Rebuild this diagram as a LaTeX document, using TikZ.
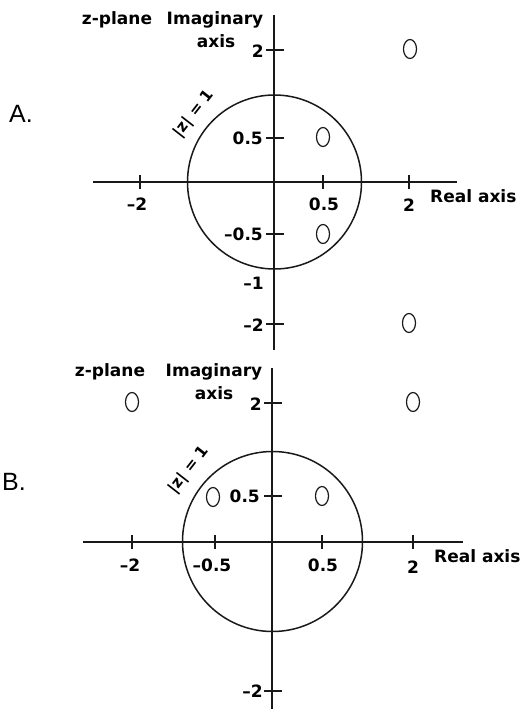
\documentclass[tikz,border=0pt]{standalone}
\usepackage{fontspec}
\usetikzlibrary{shapes.geometric}
\setmainfont{DejaVu Sans}
\newfontfamily\letterfont{Liberation Sans}
\begin{document}
\begin{tikzpicture}[x=1pt,y=-1pt,
  axisline/.style={line width=1.8pt,black!90},
  unitcircle/.style={line width=1.5pt,black!90},
  tickline/.style={line width=1.5pt,black!90},
  zeromark/.style={draw,black!90,line width=1.2pt,ellipse,minimum width=13pt,minimum height=19pt,inner sep=0pt},
  lbl/.style={font=\fontsize{17}{19}\selectfont\bfseries,inner sep=0pt,text=black},
  circlbl/.style={font=\fontsize{15.5}{17}\selectfont\bfseries,inner sep=0pt,text=black,rotate=52},
  panel/.style={font=\letterfont\fontsize{25}{28}\selectfont,inner sep=0pt}]
\useasboundingbox (0,0) rectangle (527,709);
% ================= A =================
\coordinate (Aytop) at (274,15);
\coordinate (Aybot) at (274,350);
\coordinate (Axl) at (93,182);
\coordinate (Axr) at (457,182);
\coordinate (Ao) at (274.5,182);
\draw[axisline] (Aytop) -- (Aybot);
\draw[axisline] (Axl) -- (Axr);
\draw[unitcircle] (Ao) circle[radius=87];
% real ticks
\foreach \x in {140,323,409} \draw[tickline] (\x,175) -- (\x,189);
% imag ticks
\foreach \y in {50,138,234,324} \draw[tickline] (266,\y) -- (284,\y);
\node[lbl,anchor=east] (Ai2) at (264,51) {2};
\node[lbl,anchor=east] (Ai05) at (263,138) {0.5};
\node[lbl,anchor=east] (Aim05) at (263,234) {–0.5};
\node[lbl,anchor=east] (Aim1) at (264,283) {–1};
\node[lbl,anchor=east] (Aim2) at (264,325) {–2};
\node[lbl] (Arm2) at (137,204) {–2};
\node[lbl] (Ar05) at (324,204) {0.5};
\node[lbl] (Ar2) at (409,205) {2};
\node[lbl,anchor=west] (Areal) at (430,196) {Real axis};
\node[lbl] (Azp) at (117,20) {z-plane};
\node[lbl] (Aim) at (215,20) {Imaginary};
\node[lbl] (Aax) at (216,41) {axis};
\node[circlbl] (Acl) at (194,114) {|z| = 1};
\node[panel] (Alab) at (21,114) {A.};
\node[zeromark] (Az1) at (323,137) {};
\node[zeromark] (Az2) at (323,234) {};
\node[zeromark] (Az3) at (409,323) {};
\node[zeromark] (Az4) at (410,49) {};
% ================= B =================
\coordinate (Bytop) at (272,368);
\coordinate (Bybot) at (272,709);
\coordinate (Bxl) at (83,542);
\coordinate (Bxr) at (463,542);
\coordinate (Bo) at (272.5,541.5);
\draw[axisline] (Bytop) -- (Bybot);
\draw[axisline] (Bxl) -- (Bxr);
\draw[unitcircle] (Bo) circle[radius=90];
\foreach \x in {132,215,322,413} \draw[tickline] (\x,535) -- (\x,549);
\foreach \y in {403,496,691} \draw[tickline] (264,\y) -- (282,\y);
\node[lbl,anchor=east] (Bi2) at (262,404) {2};
\node[lbl,anchor=east] (Bi05) at (260,496) {0.5};
\node[lbl,anchor=east] (Bim2) at (263,691) {–2};
\node[lbl] (Brm2) at (130,565) {–2};
\node[lbl] (Brm05) at (212,565) {–0.5};
\node[lbl] (Br05) at (323,565) {0.5};
\node[lbl] (Br2) at (413,567) {2};
\node[lbl,anchor=west] (Breal) at (434,556) {Real axis};
\node[lbl] (Bzp) at (110,372) {z-plane};
\node[lbl] (Bim) at (214,372) {Imaginary};
\node[lbl] (Bax) at (214,393) {axis};
\node[circlbl] (Bcl) at (189,470) {|z| = 1};
\node[panel] (Blab) at (14,482) {B.};
\node[zeromark] (Bz1) at (132,402) {};
\node[zeromark] (Bz2) at (413,402) {};
\node[zeromark] (Bz3) at (213,497) {};
\node[zeromark] (Bz4) at (322,496) {};
\end{tikzpicture}
\end{document}
